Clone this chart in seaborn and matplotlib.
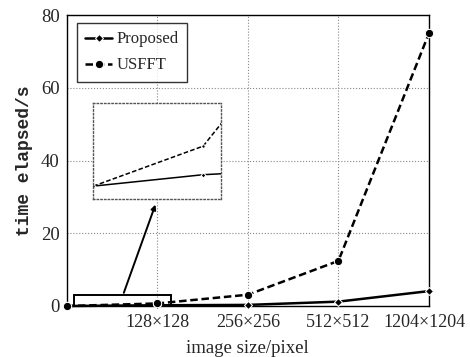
import pandas as pd
import matplotlib.pyplot as plt
import matplotlib.transforms as mtransforms
import seaborn as sns
from matplotlib.patches import Rectangle

# --- datos ---
sizes = ['', '128×128', '256×256', '512×512', '1204×1204']
pos = [0, 1, 2, 3, 4]
proposed = [0, 0.2, 0.3, 1.2, 4.1]
usfft = [0, 0.7, 3.1, 12.4, 75]

df = pd.DataFrame({'x': pos * 2,
                   'y': proposed + usfft,
                   'method': ['Proposed'] * 5 + ['USFFT'] * 5})

sns.set_style('white')
plt.rcParams['font.family'] = ['Liberation Serif', 'DejaVu Serif']

fig = plt.figure(figsize=(4.7, 3.57), dpi=100)
ax = fig.add_axes([66.7 / 470, 1 - 306 / 357, (429 - 66.7) / 470, (306 - 15) / 357])

sns.lineplot(data=df, x='x', y='y', style='method', markers={'Proposed': 'D', 'USFFT': 'o'},
             dashes={'Proposed': '', 'USFFT': (3, 1.5)}, color='black', linewidth=1.8,
             markersize=4, ax=ax)
# tamanio distinto para el marcador de USFFT, y sin recorte en los bordes
for line in ax.get_lines():
    line.set_clip_on(False)
    line.set_zorder(6)
    if line.get_linestyle() == '--':
        line.set_markersize(6)

ax.set_xlim(0, 4)
ax.set_ylim(0, 80)
ax.set_xticks(pos)
ax.set_xticklabels(sizes, fontsize=13)
ax.set_yticks([0, 20, 40, 60, 80])
ax.tick_params(axis='y', labelsize=13.5, length=0, pad=5)
ax.tick_params(axis='x', length=0, pad=6)
# la ultima etiqueta se corre un poco a la izquierda para que no se corte
last = ax.get_xticklabels()[-1]
last.set_transform(last.get_transform() + mtransforms.ScaledTranslation(-5 / 100, 0, fig.dpi_scale_trans))
ax.grid(True, linestyle=':', color='#888888', linewidth=0.8)
for s in ax.spines.values():
    s.set_color('black')
    s.set_linewidth(1.0)
ax.set_xlabel('image size/pixel', fontsize=13.5, labelpad=6)
ax.set_ylabel('time elapsed/s', fontsize=13, fontweight='bold',
              family=['Liberation Mono', 'DejaVu Sans Mono'], labelpad=6)

leg = ax.legend(loc='upper left', fontsize=12, frameon=True, fancybox=False,
                handlelength=1.6, borderpad=0.5, labelspacing=0.6, borderaxespad=0,
                bbox_to_anchor=(0.028, 0.972), handletextpad=0.3)
leg.get_frame().set_edgecolor('black')
leg.get_frame().set_linewidth(1.0)
hl = leg.get_lines()
for h in hl:
    h.set_linewidth(1.8)
hl[0].set_linestyle('-')
hl[1].set_linestyle((0, (3, 1.5)))
hl[1].set_markersize(6)

# rectangulo de zoom y flecha
ax.add_patch(Rectangle((0.08, 0), 1.07, 2.9, fill=False, edgecolor='black', linewidth=1.4,
                       clip_on=False, zorder=5))
ax.annotate('', xy=(0.99, 28.6), xytext=(0.62, 2.9),
            arrowprops=dict(arrowstyle='-|>', color='black', lw=1.4, mutation_scale=7))

# grafico interior (zoom)
axin = fig.add_axes([93.3 / 470, 1 - 198.7 / 357, 127.4 / 470, 95.4 / 357])
sns.lineplot(data=df, x='x', y='y', style='method', markers={'Proposed': 'D', 'USFFT': 'o'},
             dashes={'Proposed': '', 'USFFT': (3, 1.5)}, color='black', linewidth=1.1,
             markersize=2.5, ax=axin, legend=False)
axin.set_xlim(0, 1.16)
axin.set_ylim(-0.22, 1.45)
axin.set_xticks([])
axin.set_yticks([])
axin.set_xlabel('')
axin.set_ylabel('')
for s in axin.spines.values():
    s.set_linestyle(':')
    s.set_color('#555555')
    s.set_linewidth(1.0)

fig.savefig('out.png', dpi=100)
